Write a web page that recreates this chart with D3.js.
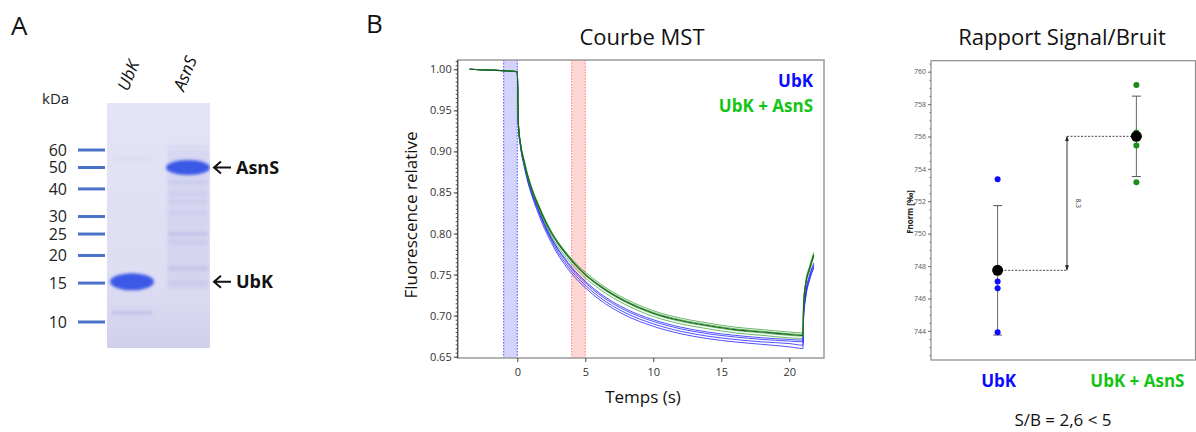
<!DOCTYPE html>
<html><head><meta charset="utf-8">
<script src="https://cdn.jsdelivr.net/npm/d3@7"></script>
<style>body{margin:0;background:#fff} svg{display:block} text{font-family:'Open Sans',sans-serif}</style>
</head><body><svg id="c" width="1196" height="432"></svg>
<script>
// ---------------- DATA ----------------
// Panel A : gel
const gelLanes = ["UbK", "AsnS"];
const markerKDa = [60, 50, 40, 30, 25, 20, 15, 10];
const mainBandLane = ["AsnS", "UbK"];
const mainBandKDa = [50, 15.2];
const faintBandLane = ["AsnS","AsnS","AsnS","AsnS","AsnS","AsnS","AsnS","AsnS","AsnS","UbK","UbK"];
const faintBandKDa = [62, 43, 38, 35, 31, 25, 23, 17.5, 15, 11, 55];
const faintBandStrength = [0.12, 0.15, 0.1, 0.1, 0.1, 0.22, 0.12, 0.2, 0.1, 0.25, 0.08];

// Panel B : MST curves
const timeS = [-3.5, -2, -0.5, 0, 0.08, 0.25, 0.5, 0.8, 1.2, 1.6, 2, 2.5, 3, 3.5, 4, 5, 6, 7, 8, 10, 12, 14, 16, 18, 20, 21, 21.05, 21.2, 21.5, 21.8];
const ubk1 = [1.000,0.9990,0.9978,0.9970,0.934,0.907,0.886,0.866,0.845,0.828,0.812,0.795,0.781,0.770,0.759,0.742,0.728,0.717,0.708,0.695,0.686,0.680,0.676,0.673,0.671,0.670,0.705,0.728,0.750,0.764];
const ubk2 = [1.000,0.9990,0.9978,0.9970,0.933,0.906,0.885,0.865,0.844,0.827,0.811,0.794,0.780,0.768,0.757,0.740,0.726,0.715,0.706,0.693,0.684,0.678,0.674,0.671,0.669,0.668,0.702,0.726,0.748,0.762];
const ubk3 = [1.000,0.9989,0.9977,0.9969,0.932,0.905,0.884,0.863,0.842,0.825,0.809,0.792,0.777,0.765,0.754,0.737,0.723,0.712,0.703,0.690,0.681,0.675,0.671,0.668,0.666,0.664,0.699,0.723,0.745,0.760];
const ubk4 = [1.000,0.9989,0.9977,0.9969,0.931,0.904,0.882,0.861,0.840,0.822,0.806,0.789,0.774,0.762,0.751,0.734,0.720,0.709,0.700,0.687,0.678,0.672,0.668,0.665,0.662,0.660,0.696,0.721,0.744,0.758];
const mix1 = [1.000,0.9991,0.9979,0.9971,0.936,0.909,0.890,0.870,0.850,0.834,0.819,0.803,0.790,0.779,0.769,0.753,0.740,0.729,0.720,0.706,0.697,0.691,0.686,0.683,0.680,0.679,0.717,0.741,0.761,0.777];
const mix2 = [1.000,0.9990,0.9978,0.9970,0.935,0.908,0.889,0.869,0.849,0.833,0.818,0.802,0.789,0.778,0.768,0.751,0.738,0.727,0.718,0.704,0.695,0.689,0.684,0.681,0.678,0.677,0.715,0.739,0.759,0.775];
const mix3 = [1.000,0.9990,0.9978,0.9970,0.935,0.908,0.887,0.867,0.847,0.831,0.816,0.800,0.787,0.776,0.766,0.749,0.736,0.725,0.716,0.702,0.693,0.687,0.682,0.679,0.676,0.675,0.713,0.737,0.757,0.773];
const mix4 = [1.000,0.9989,0.9977,0.9969,0.934,0.907,0.886,0.866,0.846,0.829,0.814,0.797,0.784,0.773,0.763,0.746,0.733,0.722,0.713,0.699,0.690,0.684,0.679,0.676,0.673,0.672,0.711,0.735,0.755,0.771];
const mixMean = [1.000,0.9990,0.9978,0.9970,0.935,0.908,0.888,0.868,0.848,0.832,0.817,0.801,0.788,0.777,0.767,0.750,0.737,0.726,0.717,0.703,0.694,0.688,0.683,0.680,0.677,0.676,0.714,0.738,0.758,0.774];
const coldRegion = [-1, 0];
const hotRegion = [4, 5];
const mstYTicks = [0.65, 0.70, 0.75, 0.80, 0.85, 0.90, 0.95, 1.00];
const mstXTicks = [0, 5, 10, 15, 20];
const legendLabels = ["UbK", "UbK + AsnS"];

// Panel B : signal / noise
const groups = ["UbK", "UbK + AsnS"];
const fnormUbK = [753.36, 747.04, 746.63, 743.92];
const fnormUbKAsnS = [759.18, 756.24, 755.45, 753.17];
const fnormTicks = [744, 746, 748, 750, 752, 754, 756, 758, 760];
const ratioText = "S/B = 2,6 < 5";

// ---------------- DRAW ----------------
const svg = d3.select("#c");
svg.append("rect").attr("width", 1196).attr("height", 432).attr("fill", "#fff");
const defs = svg.append("defs");
defs.append("filter").attr("id", "blur").attr("x", "-30%").attr("y", "-60%").attr("width", "160%").attr("height", "220%")
  .append("feGaussianBlur").attr("stdDeviation", 1.6);
defs.append("filter").attr("id", "blur2").attr("x", "-30%").attr("y", "-200%").attr("width", "160%").attr("height", "500%")
  .append("feGaussianBlur").attr("stdDeviation", 1.5);
const grad = defs.append("linearGradient").attr("id", "gelg").attr("x1", 0).attr("y1", 0).attr("x2", 0).attr("y2", 1);
grad.append("stop").attr("offset", "0%").attr("stop-color", "#e4e4f6");
grad.append("stop").attr("offset", "70%").attr("stop-color", "#dedef3");
grad.append("stop").attr("offset", "100%").attr("stop-color", "#d0d0ed");

// ---- Panel A
svg.append("text").text("A").attr("x", 11).attr("y", 35).attr("font-size", 26).attr("fill", "#111");
const gelX0 = 107, gelX1 = 210, gelY0 = 103, gelY1 = 348;
svg.append("rect").attr("x", gelX0).attr("y", gelY0).attr("width", gelX1 - gelX0).attr("height", gelY1 - gelY0).attr("fill", "url(#gelg)");
const xG = d3.scalePoint().domain(gelLanes).range([132, 188]);
const yG = d3.scaleLog().domain([10, 60]).range([322, 150]);

const gelClip = defs.append("clipPath").attr("id", "gelclip");
gelClip.append("rect").attr("x", gelX0).attr("y", gelY0).attr("width", gelX1 - gelX0).attr("height", gelY1 - gelY0);
const gel = svg.append("g").attr("clip-path", "url(#gelclip)");
gel.append("rect").attr("x", xG("AsnS") - 21).attr("width", 42).attr("y", yG(60)).attr("height", yG(14) - yG(60))
  .attr("fill", "#b8b8e6").attr("opacity", 0.25).attr("filter", "url(#blur)");
gel.selectAll("rect.faint").data(faintBandKDa).join("rect").attr("class", "faint")
  .attr("x", (d, i) => xG(faintBandLane[i]) - 20).attr("width", 40)
  .attr("y", d => yG(d) - 2).attr("height", 4)
  .attr("fill", "#8a8ad8").attr("opacity", (d, i) => faintBandStrength[i]).attr("filter", "url(#blur2)");
gel.selectAll("ellipse.band").data(mainBandKDa).join("ellipse").attr("class", "band")
  .attr("cx", (d, i) => xG(mainBandLane[i])).attr("cy", d => yG(d))
  .attr("rx", 22).attr("ry", (d, i) => i === 0 ? 7.5 : 8.5)
  .attr("fill", "#3a58e6").attr("filter", "url(#blur)");

svg.selectAll("text.lane").data(gelLanes).join("text").attr("class", "lane")
  .attr("transform", d => `translate(${xG(d) - 4},92) rotate(-68)`)
  .attr("font-size", 17).attr("font-style", "italic").attr("fill", "#111").text(d => d);
svg.append("text").text("kDa").attr("x", 42).attr("y", 104).attr("font-size", 15).attr("fill", "#222");
svg.selectAll("line.mk").data(markerKDa).join("line").attr("class", "mk")
  .attr("x1", 78).attr("x2", 105).attr("y1", d => yG(d)).attr("y2", d => yG(d))
  .attr("stroke", "#4a72c8").attr("stroke-width", 3);
svg.selectAll("text.mk").data(markerKDa).join("text").attr("class", "mk")
  .attr("x", 67).attr("y", d => yG(d)).attr("dy", "0.36em").attr("text-anchor", "end")
  .attr("font-size", 16).attr("fill", "#222").text(d => d);
mainBandKDa.forEach((k, i) => {
  const y = yG(k);
  svg.append("path").attr("d", `M231,${y}H214M221,${y - 6}L214,${y}L221,${y + 6}`)
    .attr("fill", "none").attr("stroke", "#111").attr("stroke-width", 2);
  svg.append("text").attr("x", 236).attr("y", y).attr("dy", "0.36em").attr("font-size", 18)
    .attr("font-weight", "bold").attr("fill", "#111").text(mainBandLane[i]);
});

// ---- Panel B (MST)
svg.append("text").text("B").attr("x", 366).attr("y", 33).attr("font-size", 26).attr("fill", "#111");
svg.append("text").text("Courbe MST").attr("x", 642).attr("y", 45).attr("text-anchor", "middle").attr("font-size", 22).attr("fill", "#111");
const mL = 457.7, mR = 824, mT = 60, mB = 358;
const xM = d3.scaleLinear().domain([-4.38, 22.55]).range([mL, mR]);
const yM = d3.scaleLinear().domain([0.6484, 1.0113]).range([mB, mT]);
defs.append("clipPath").attr("id", "mclip").append("rect").attr("x", mL).attr("y", mT).attr("width", mR - mL).attr("height", mB - mT);
const mg = svg.append("g").attr("clip-path", "url(#mclip)");
[[coldRegion, "#d3d3fb", "#3a3aff"], [hotRegion, "#ffd6d6", "#ff6a6a"]].forEach(([r, f, s]) => {
  mg.append("rect").attr("x", xM(r[0])).attr("width", xM(r[1]) - xM(r[0])).attr("y", mT).attr("height", mB - mT).attr("fill", f);
  r.forEach(v => mg.append("line").attr("x1", xM(v)).attr("x2", xM(v)).attr("y1", mT).attr("y2", mB)
    .attr("stroke", s).attr("stroke-width", 0.9).attr("stroke-dasharray", "1.5,1.5"));
});
const line = d3.line().x((d, i) => xM(timeS[i])).y(d => yM(d)).curve(d3.curveMonotoneX);
[ubk1, ubk2, ubk3, ubk4].forEach(c => mg.append("path").attr("d", line(c)).attr("fill", "none")
  .attr("stroke", "#2424ff").attr("stroke-width", 1).attr("opacity", 0.8));
[mix1, mix2, mix3, mix4].forEach(c => mg.append("path").attr("d", line(c)).attr("fill", "none")
  .attr("stroke", "#35a035").attr("stroke-width", 1).attr("opacity", 0.75));
mg.append("path").attr("d", line(mixMean)).attr("fill", "none").attr("stroke", "#17651a").attr("stroke-width", 1.1);

svg.append("rect").attr("x", mL).attr("y", mT).attr("width", mR - mL).attr("height", mB - mT)
  .attr("fill", "none").attr("stroke", "#9a9a9a").attr("stroke-width", 1.5);
const minorY = d3.range(0.65, 1.0101, 0.005);
svg.append("g").attr("transform", `translate(${mL},0)`)
  .call(d3.axisLeft(yM).tickValues(minorY).tickSize(2).tickFormat(""))
  .call(g => g.select(".domain").remove()).selectAll("line").attr("stroke", "#555");
const ay = svg.append("g").attr("transform", `translate(${mL},0)`)
  .call(d3.axisLeft(yM).tickValues(mstYTicks).tickSize(4).tickPadding(2).tickFormat(d3.format(".2f")));
ay.select(".domain").attr("d", `M0,${mT}V${mB}`).attr("stroke", "#444");
ay.selectAll("text").attr("font-size", 11).attr("fill", "#333").attr("font-family", "'Open Sans',sans-serif");
ay.selectAll("line").attr("stroke", "#444");
const ax = svg.append("g").attr("transform", `translate(0,${mB})`)
  .call(d3.axisBottom(xM).tickValues(mstXTicks).tickSize(4).tickPadding(6));
ax.select(".domain").remove();
ax.selectAll("text").attr("font-size", 11).attr("fill", "#333").attr("font-family", "'Open Sans',sans-serif");
ax.selectAll("line").attr("stroke", "#444");
svg.append("text").text("Temps (s)").attr("x", 643).attr("y", 403).attr("text-anchor", "middle").attr("font-size", 17).attr("fill", "#111");
svg.append("text").text("Fluorescence relative").attr("transform", "translate(417,215) rotate(-90)")
  .attr("text-anchor", "middle").attr("font-size", 17).attr("fill", "#111");
const legendColors = ["#0a0aff", "#14c414"];
svg.selectAll("text.leg").data(legendLabels).join("text").attr("class", "leg")
  .attr("x", 813).attr("y", (d, i) => 87 + i * 25).attr("text-anchor", "end")
  .attr("font-size", 17).attr("font-weight", "bold").attr("fill", (d, i) => legendColors[i]).text(d => d);

// ---- Signal / Bruit panel
svg.append("text").text("Rapport Signal/Bruit").attr("x", 1062).attr("y", 45).attr("text-anchor", "middle").attr("font-size", 22).attr("fill", "#111");
const rL = 931, rT = 60.7, rB = 360, rR = 1195.5;
const yR = d3.scaleLinear().domain([742.2, 760.68]).range([rB, rT]);
const xR = d3.scalePoint().domain(groups).range([931, 1203]).padding(0.48);
svg.append("rect").attr("x", rL).attr("y", rT).attr("width", rR - rL).attr("height", rB - rT)
  .attr("fill", "none").attr("stroke", "#8c8c8c").attr("stroke-width", 1.2);
svg.append("g").attr("transform", `translate(${rL},0)`)
  .call(d3.axisLeft(yR).tickValues(d3.range(742.5, 760.6, 0.5)).tickSize(1.5).tickFormat(""))
  .call(g => g.select(".domain").remove()).selectAll("line").attr("stroke", "#777");
const ry = svg.append("g").attr("transform", `translate(${rL},0)`)
  .call(d3.axisLeft(yR).tickValues(fnormTicks).tickSize(3).tickPadding(2));
ry.select(".domain").remove();
ry.selectAll("text").attr("font-size", 7).attr("fill", "#555").attr("font-family", "'Open Sans',sans-serif");
ry.selectAll("line").attr("stroke", "#777");
svg.append("text").text("Fnorm [‰]").attr("transform", "translate(913,212) rotate(-90)")
  .attr("text-anchor", "middle").attr("font-size", 8).attr("font-weight", "bold").attr("fill", "#222");

const series = [fnormUbK, fnormUbKAsnS];
const dotColors = ["#0d0dff", "#1a8c1a"];
const stats = series.map(s => ({ m: d3.mean(s), sd: d3.deviation(s) }));
const midX = (xR(groups[0]) + xR(groups[1])) / 2;
svg.append("path").attr("d", `M${xR(groups[0])},${yR(stats[0].m)}H${midX}M${midX},${yR(stats[1].m)}H${xR(groups[1])}`)
  .attr("fill", "none").attr("stroke", "#333").attr("stroke-width", 0.9).attr("stroke-dasharray", "2,1.5");
defs.append("marker").attr("id", "ah").attr("viewBox", "0 0 10 10").attr("refX", 10).attr("refY", 5)
  .attr("markerWidth", 5).attr("markerHeight", 5).attr("orient", "auto-start-reverse")
  .append("path").attr("d", "M0,1L10,5L0,9Z").attr("fill", "#222");
svg.append("line").attr("x1", midX).attr("x2", midX).attr("y1", yR(stats[1].m)).attr("y2", yR(stats[0].m))
  .attr("stroke", "#333").attr("stroke-width", 1).attr("marker-start", "url(#ah)").attr("marker-end", "url(#ah)");
svg.append("text").text(d3.format(".1f")(stats[1].m - stats[0].m))
  .attr("transform", `translate(${midX + 9},${(yR(stats[0].m) + yR(stats[1].m)) / 2}) rotate(90)`)
  .attr("text-anchor", "middle").attr("font-size", 6.5).attr("fill", "#222");
series.forEach((s, i) => {
  const x = xR(groups[i]), st = stats[i];
  svg.append("line").attr("x1", x).attr("x2", x).attr("y1", yR(st.m + st.sd)).attr("y2", yR(st.m - st.sd))
    .attr("stroke", "#666").attr("stroke-width", 1);
  [st.m + st.sd, st.m - st.sd].forEach(v => svg.append("line").attr("x1", x - 4.5).attr("x2", x + 4.5)
    .attr("y1", yR(v)).attr("y2", yR(v)).attr("stroke", "#555").attr("stroke-width", 1));
  svg.selectAll(null).data(s).join("circle").attr("cx", x).attr("cy", d => yR(d)).attr("r", 3).attr("fill", dotColors[i]);
  svg.append("circle").attr("cx", x).attr("cy", yR(st.m)).attr("r", 5.5).attr("fill", "#000");
});
svg.selectAll("text.grp").data(groups).join("text").attr("class", "grp")
  .attr("x", d => xR(d) + 1).attr("y", 387).attr("text-anchor", "middle")
  .attr("font-size", 17).attr("font-weight", "bold").attr("fill", (d, i) => legendColors[i]).text(d => d);
svg.append("text").text(ratioText).attr("x", 1063).attr("y", 426).attr("text-anchor", "middle").attr("font-size", 17).attr("fill", "#111");
</script></body></html>
